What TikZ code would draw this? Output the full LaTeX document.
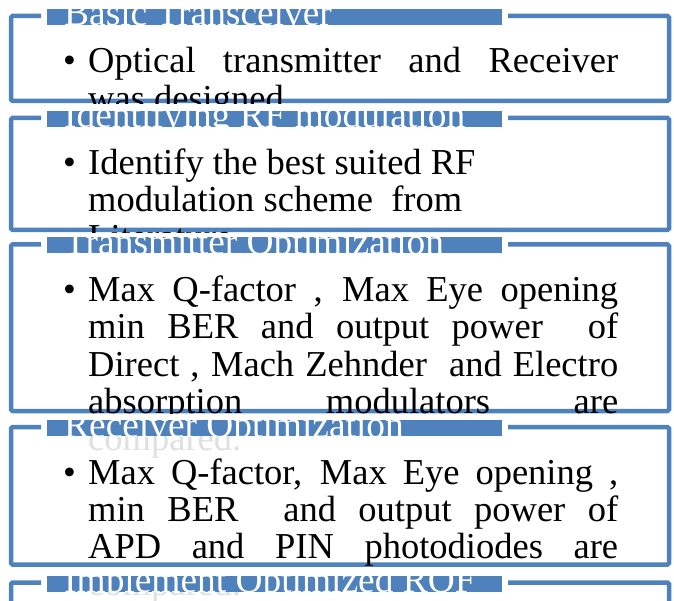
\documentclass[tikz,border=0pt]{standalone}
\usepackage{fontspec}
\setmainfont{Liberation Serif}
\definecolor{listblue}{HTML}{4F81BD}
\tikzset{
  frame/.style={draw=listblue, line width=4.5pt, rounded corners=1.5pt},
  titlebar/.style={fill=listblue},
  titletext/.style={text=white, anchor=base west, inner sep=0pt, font=\fontsize{37.4}{38}\selectfont},
  bodytext/.style={anchor=base west, inner sep=0pt, font=\fontsize{36.5}{37}\selectfont},
}
%% one bracket box: #1 top of white strip, #2 top, #3 bottom, #4 title, #5 name
\newcommand{\bracketbox}[5]{%
  \fill[white] (0,#1) rectangle (674,#2);
  \fill[white, fill opacity=0.88] (11,#2) rectangle (669,#3);
  \draw[frame] (41,#2) -- (11,#2) -- (11,#3) -- (669,#3) -- (669,#2) -- (508,#2);
  \fill[titlebar] (47,#2-7) rectangle (502,#2+9);
  \begin{scope}
    \clip (47,#2-7) rectangle (502,#2+9);
    \node[titletext] (#5) at (64,#2+10) {#4};
  \end{scope}
}
\begin{document}
\begin{tikzpicture}[x=1pt,y=-1pt]
  \useasboundingbox (0,0) rectangle (674,601);
  %% box 1
  \bracketbox{0}{16}{101}{Basic Transceiver}{basic}
  \node[bodytext] (basic-dot) at (63,73) {•};
  \node[bodytext] (basic-1) at (88,73) {\makebox[530pt][s]{Optical transmitter and Receiver}};
  \node[bodytext] (basic-2) at (88,110.3) {was designed.};
  %% box 2
  \bracketbox{104}{118}{230}{Identifying RF modulation}{identify}
  \node[bodytext] (identify-dot) at (63,174.5) {•};
  \node[bodytext] (identify-1) at (88,174.5) {Identify the best suited RF};
  \node[bodytext] (identify-2) at (88,211.8) {modulation scheme\ \ from};
  \node[bodytext] (identify-3) at (88,249.1) {Literature};
  %% box 3
  \bracketbox{233}{244.5}{411}{Transmitter Optimization}{transmitter}
  \node[bodytext] (transmitter-dot) at (63,301.5) {•};
  \node[bodytext] (transmitter-1) at (88,301.5) {\makebox[530pt][s]{Max Q-factor , Max Eye opening}};
  \node[bodytext] (transmitter-2) at (88,338.8) {\makebox[530pt][s]{min BER and output power\ \ of}};
  \node[bodytext] (transmitter-3) at (88,376.1) {\makebox[530pt][s]{Direct , Mach Zehnder\ \ and Electro}};
  \node[bodytext] (transmitter-4) at (88,413.4) {\makebox[530pt][s]{absorption modulators are}};
  \node[bodytext] (transmitter-5) at (88,450.7) {compared.};
  %% box 4
  \bracketbox{414}{427}{564.5}{Receiver Optimization}{receiver}
  \node[bodytext] (receiver-dot) at (63,484) {•};
  \node[bodytext] (receiver-1) at (88,484) {\makebox[530pt][s]{Max Q-factor, Max Eye opening ,}};
  \node[bodytext] (receiver-2) at (88,521.3) {\makebox[530pt][s]{min BER\ \ and output power of}};
  \node[bodytext] (receiver-3) at (88,558.6) {\makebox[530pt][s]{APD and PIN photodiodes are}};
  \node[bodytext] (receiver-4) at (88,595.9) {compared.};
  %% box 5
  \bracketbox{567.5}{582.5}{650}{Implement Optimized ROF}{implement}
\end{tikzpicture}
\end{document}
